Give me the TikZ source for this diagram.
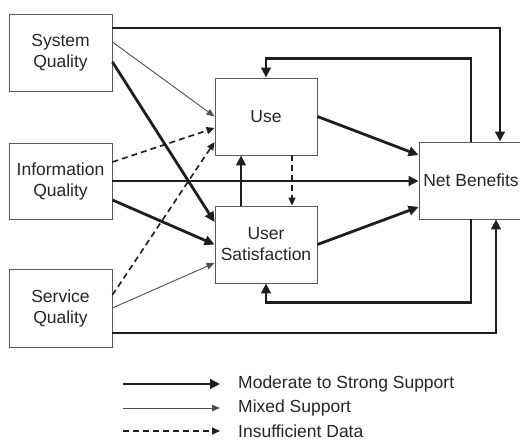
\documentclass[tikz,border=0pt]{standalone}
\usepackage{fontspec}
\setmainfont{Liberation Sans}
\usetikzlibrary{arrows.meta}
\definecolor{ink}{HTML}{1E1E1E}
\definecolor{txt}{HTML}{262626}
\definecolor{frame}{HTML}{5A5A5A}
\definecolor{thinink}{HTML}{505050}
\begin{document}
\begin{tikzpicture}[x=1pt,y=-1pt,
  every node/.style={font=\fontsize{17.5}{21}\selectfont, text=txt},
  box/.style={draw=frame, line width=0.9pt, align=center, inner sep=0pt},
  strong/.style={draw=ink, line width=2.8pt, line join=miter,
    -{Triangle[length=10pt,width=9.5pt]}},
  mixed/.style={draw=thinink, line width=0.9pt,
    -{Triangle[length=8pt,width=6.5pt]}},
  nodata/.style={draw=ink, line width=1.6pt, dash pattern=on 6pt off 4pt,
    -{Triangle[length=8pt,width=7pt]}},
  legendtext/.style={anchor=west, inner sep=0pt}]
\useasboundingbox[fill=white] (0,0) rectangle (520,444);

% dimension boxes
\node[box, minimum width=103pt, minimum height=77pt] (sys)  at (60.5,52.5) {System\\Quality};
\node[box, minimum width=103pt, minimum height=76pt] (info) at (60.5,181) {Information\\Quality};
\node[box, minimum width=103pt, minimum height=78pt] (serv) at (60.5,308) {Service\\Quality};
\node[box, minimum width=102pt, minimum height=77pt] (use)  at (266,116.5) {Use};
\node[box, minimum width=102pt, minimum height=77pt] (sat)  at (266,244.5) {User\\Satisfaction};
\node[box, minimum width=104pt, minimum height=77pt] (net)  at (471,180.5) {Net Benefits};

% quality dimensions to use and satisfaction
\draw[mixed]  ([yshift=10.5pt]sys.east) -- (use.west);
\draw[strong] ([yshift=-9.5pt]sys.east) -- ([yshift=22.5pt]sat.west);
\draw[nodata] ([yshift=19pt]info.east) -- ([yshift=-11.5pt]use.west);
\draw[strong] ([yshift=-19pt]info.east) -- (sat.west);
\draw[nodata] ([yshift=13pt]serv.east) -- ([yshift=-25.5pt]use.west);
\draw[mixed]  (serv.east) -- ([yshift=-18.5pt]sat.west);

% direct paths to net benefits
\draw[strong] ([yshift=24.5pt]sys.east) -| ([xshift=29pt]net.north);
\draw[strong] (info.east) -- (info.east -| net.west);
\draw[strong] ([yshift=-25pt]serv.east) -| ([xshift=25pt]net.south);

% use, satisfaction and net benefits
\draw[strong] (use.east) -- ([yshift=25.5pt]net.west);
\draw[strong] (sat.east) -- ([yshift=-26.5pt]net.west);
\draw[strong] ([xshift=-25pt]sat.north) -- ([xshift=-25pt]use.south);
\draw[nodata] ([xshift=26pt]use.south) -- ([xshift=26pt]sat.north);

% feedback loops
\draw[strong] (net.north) |- ([yshift=19pt]use.north) -- (use.north);
\draw[strong] (net.south) |- ([yshift=-19pt]sat.south) -- (sat.south);

% legend
\coordinate (ls1) at (123,384);
\coordinate (ls2) at (123,408);
\coordinate (ls3) at (123,431);
\node[legendtext] (lt1) at (238,384) {Moderate to Strong Support};
\node[legendtext] (lt2) at (238,408) {Mixed Support};
\node[legendtext] (lt3) at (238,431) {Insufficient Data};
\draw[strong, shorten >=18pt] (ls1) -- (lt1.west);
\draw[mixed, shorten >=18pt] (ls2) -- (lt2.west);
\draw[nodata, shorten >=18pt] (ls3) -- (lt3.west);
\end{tikzpicture}
\end{document}
